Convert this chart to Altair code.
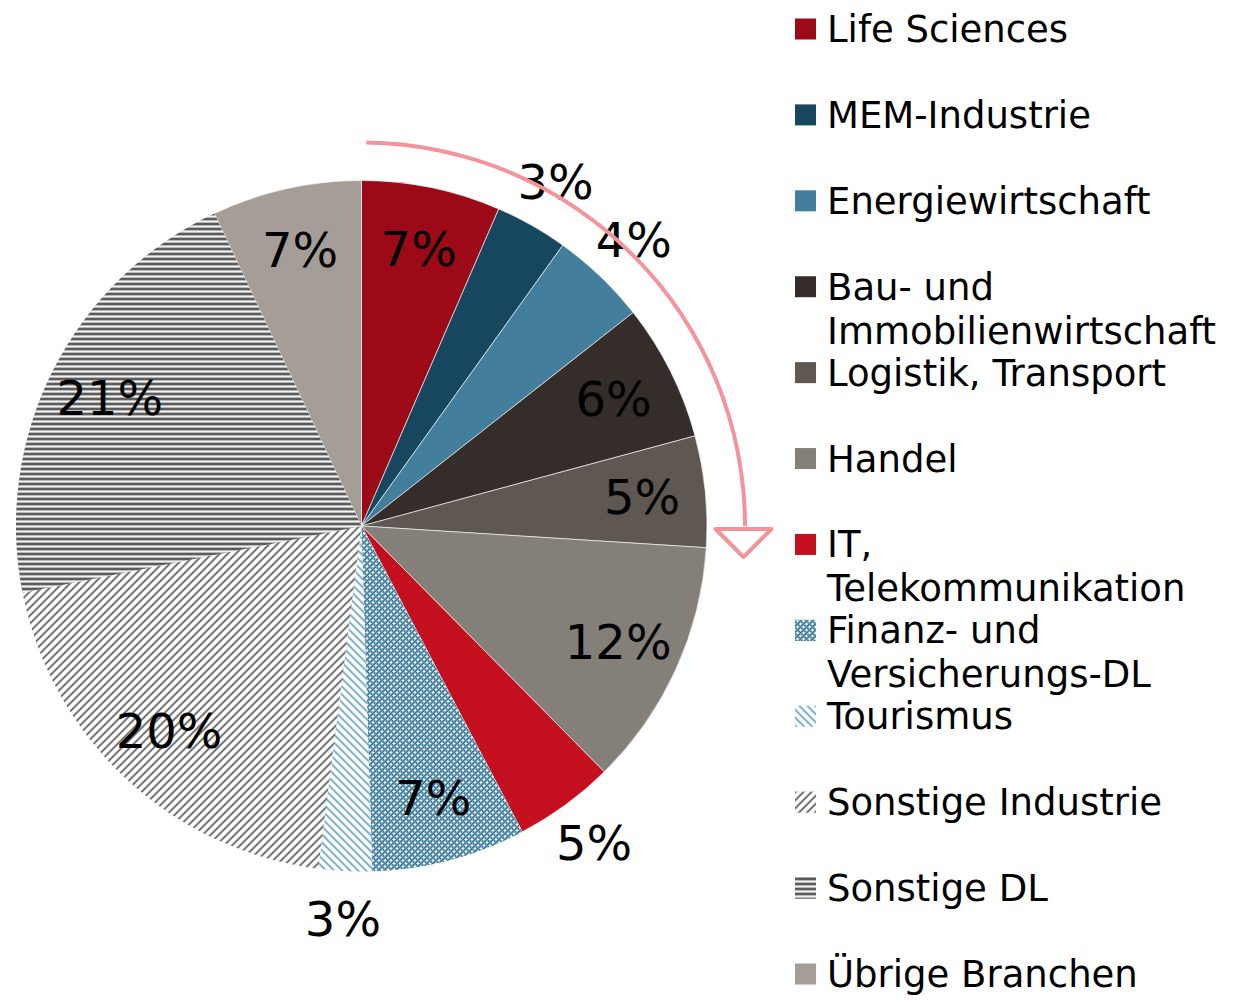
import math
import numpy as np
import pandas as pd
import altair as alt

# ---------------- data ----------------
categories = ["Life Sciences", "MEM-Industrie", "Energiewirtschaft",
              "Bau- und Immobilienwirtschaft", "Logistik, Transport", "Handel",
              "IT, Telekommunikation", "Finanz- und Versicherungs-DL", "Tourismus",
              "Sonstige Industrie", "Sonstige DL", "Übrige Branchen"]
legend_text = ["Life Sciences", "MEM-Industrie", "Energiewirtschaft",
               "Bau- und\nImmobilienwirtschaft", "Logistik, Transport", "Handel",
               "IT,\nTelekommunikation", "Finanz- und\nVersicherungs-DL", "Tourismus",
               "Sonstige Industrie", "Sonstige DL", "Übrige Branchen"]
values = [6.5, 3.4, 4.5, 6.4, 5.2, 11.6, 4.7, 7.2, 2.5, 19.9, 21.1, 7.0]
pct_labels = ["7%", "3%", "4%", "6%", "5%", "12%", "5%", "7%", "3%", "20%", "21%", "7%"]
label_outside = [False, True, True, False, False, False, True, False, True, False, False, False]
colors = ["#9d0a17", "#17475f", "#437f9c", "#342d29", "#5e5752", "#857f7a",
          "#c30f1e", "#8fb3c6", "#cfe3ee", "#c4c4c4", "#a3a3a3", "#a59d97"]

arrow_start = [0.2]
arrow_end = [25.0]

# ---------------- layout constants ----------------
CX, CY, R = 353.5, 518, 345.5
R_IN, R_OUT = 282, 394
PINK = "#f4939c"
FONT = "DejaVu Sans"

df = pd.DataFrame({"cat": categories, "legend": legend_text, "value": values,
                   "label": pct_labels, "outside": label_outside, "color": colors})
df["end"] = df["value"].cumsum()
df["start"] = df["end"] - df["value"]
df["mid"] = (df["start"] + df["end"]) / 2
df["r"] = np.where(df["outside"], R_OUT, R_IN)
df["idx"] = range(len(df))

arrow_df = pd.DataFrame({"start": arrow_start, "end": arrow_end})


# ---------------- pattern helpers (striped linear gradients) ----------------
def wedge_bbox(start, end, radius):
    a0, a1 = start / 100 * 2 * math.pi, end / 100 * 2 * math.pi
    pts = [(0.0, 0.0)]
    for a in (a0, a1):
        pts.append((radius * math.sin(a), -radius * math.cos(a)))
    k = math.ceil(a0 / (math.pi / 2))
    while k * math.pi / 2 < a1:
        a = k * math.pi / 2
        pts.append((radius * math.sin(a), -radius * math.cos(a)))
        k += 1
    xs = [p[0] for p in pts]
    ys = [p[1] for p in pts]
    return max(xs) - min(xs), max(ys) - min(ys)


def make_stops(bands, total):
    stops = []
    pos = 0.0
    while pos < total:
        for color, width in bands:
            s = pos / total
            if s >= 1:
                break
            e = min((pos + width) / total, 1.0)
            stops.append({"offset": round(s, 5), "color": color})
            stops.append({"offset": round(e, 5), "color": color})
            pos += width
    return stops


def stripes(direction, bands, w, h):
    if direction == "h":
        x1, y1, x2, y2 = 0, 0, 0, 1
        total = h
    else:
        k = (w + h) / (w * w + h * h)
        total = w + h
        if direction == "\\":
            x1, y1, x2, y2 = 0, 1, w * k, 1 - h * k
        else:
            x1, y1, x2, y2 = 0, 0, w * k, h * k
    return {"gradient": "linear", "x1": round(x1, 5), "y1": round(y1, 5),
            "x2": round(x2, 5), "y2": round(y2, 5), "stops": make_stops(bands, total)}


fin_a = [("#3f7c9c", 2), ("#9cc0d2", 1), ("#ffffff", 2), ("#9cc0d2", 1)]
fin_b = [("#3f7c9c", 2), ("rgba(156,192,210,0.8)", 1), ("rgba(255,255,255,0)", 2),
         ("rgba(156,192,210,0.8)", 1)]
tour = [("#7fb3cf", 2), ("#c4dde9", 1), ("#ffffff", 4), ("#c4dde9", 1)]
sind = [("#777777", 1.5), ("#c0c0c0", 1), ("#ffffff", 4.5), ("#c0c0c0", 1)]
sdl = [("#5c5c5c", 2), ("#b9b9b9", 1), ("#f2f2f2", 1), ("#b9b9b9", 1)]

patterns = {
    "Finanz- und Versicherungs-DL": [("\\", fin_a), ("/", fin_b)],
    "Tourismus": [("\\", tour)],
    "Sonstige Industrie": [("/", sind)],
    "Sonstige DL": [("h", sdl)],
}

theta_scale = alt.Scale(domain=[0, 100], range=[0, 2 * math.pi])
base = alt.Chart(df)

pie = base.mark_arc(outerRadius=R, stroke="white", strokeWidth=1, strokeOpacity=0.6).encode(
    theta=alt.Theta("start:Q", scale=theta_scale, stack=False),
    theta2="end:Q",
    fill=alt.Fill("color:N", scale=None),
    x=alt.value(CX), y=alt.value(CY),
)

layers = [pie]
for cat, pats in patterns.items():
    row = df[df["cat"] == cat].iloc[0]
    w, h = wedge_bbox(row["start"], row["end"], R)
    for direction, bands in pats:
        layers.append(
            base.transform_filter(alt.datum.cat == cat)
            .mark_arc(outerRadius=R, fill=stripes(direction, bands, w, h))
            .encode(theta=alt.Theta("start:Q", scale=theta_scale, stack=False),
                    theta2="end:Q", x=alt.value(CX), y=alt.value(CY))
        )

labels = base.mark_text(font=FONT, fontSize=48, color="black", align="center",
                        baseline="middle", dy=2).encode(
    theta=alt.Theta("mid:Q", scale=theta_scale, stack=False),
    radius=alt.Radius("r:Q", scale=None),
    text="label:N",
    x=alt.value(CX), y=alt.value(CY),
)

arrow = alt.Chart(arrow_df).mark_arc(innerRadius=381.5, outerRadius=385.5, fill=PINK).encode(
    theta=alt.Theta("start:Q", scale=theta_scale, stack=False),
    theta2="end:Q",
    x=alt.value(CX), y=alt.value(CY),
)
head = alt.Chart(arrow_df).mark_point(
    shape="M-1,-0.5L1,-0.5L0,0.5Z", size=3136, filled=True, fill="white",
    stroke=PINK, strokeWidth=4, opacity=1, strokeJoin="round").encode(
    x=alt.value(CX + 382), y=alt.value(CY + 17),
)

# ---------------- manual legend ----------------
ly = alt.Y("idx:Q", scale=alt.Scale(domain=[0, 11], range=[21, 966]), axis=None)
SYM_X = 797.5
leg_sym = base.mark_square(size=441, opacity=1, filled=True).encode(
    y=ly, x=alt.value(SYM_X), fill=alt.Fill("color:N", scale=None))
leg_layers = [leg_sym]
for cat, pats in patterns.items():
    for direction, bands in pats:
        leg_layers.append(
            base.transform_filter(alt.datum.cat == cat)
            .mark_square(size=441, opacity=1, filled=True,
                         fill=stripes(direction, bands, 21, 21))
            .encode(y=ly, x=alt.value(SYM_X))
        )
leg_text = base.mark_text(font=FONT, fontSize=37, align="left", baseline="alphabetic",
                          dy=13, lineBreak="\n", lineHeight=44, color="black").encode(
    y=ly, x=alt.value(819), text="legend:N")

chart = alt.layer(*layers, labels, arrow, head, *leg_layers, leg_text).properties(
    width=1215, height=988,
    autosize=alt.AutoSizeParams(type="none"),
    padding=0,
).configure_view(stroke=None)

chart.save("out.html", embed_options={"renderer": "svg", "actions": False})
